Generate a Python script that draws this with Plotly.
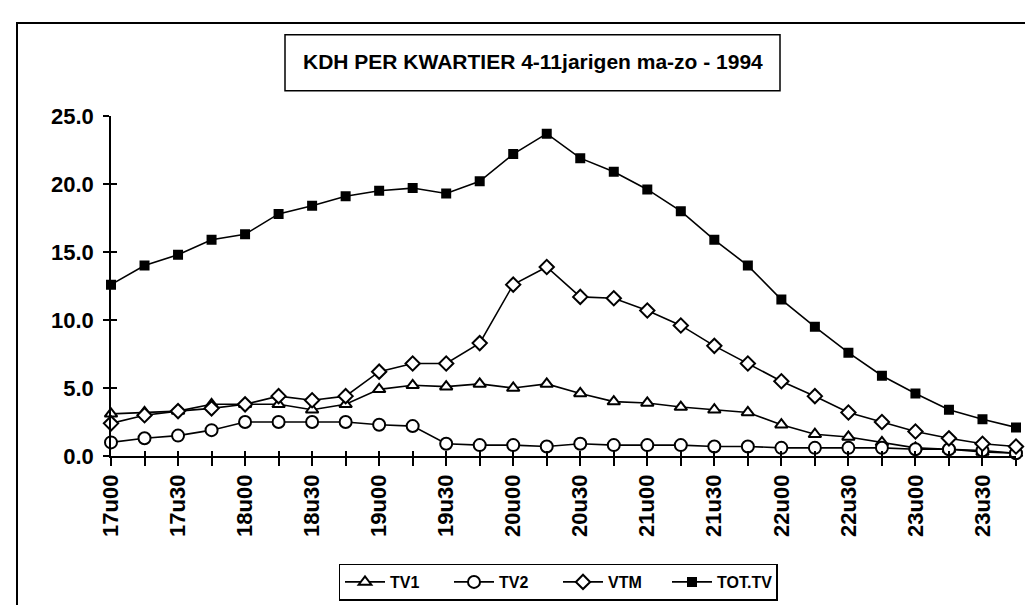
import plotly.graph_objects as go

times = ["17u00", "17u15", "17u30", "17u45", "18u00", "18u15", "18u30", "18u45",
         "19u00", "19u15", "19u30", "19u45", "20u00", "20u15", "20u30", "20u45",
         "21u00", "21u15", "21u30", "21u45", "22u00", "22u15", "22u30", "22u45",
         "23u00", "23u15", "23u30", "23u45"]
tick_labels = ["17u00", "", "17u30", "", "18u00", "", "18u30", "",
               "19u00", "", "19u30", "", "20u00", "", "20u30", "",
               "21u00", "", "21u30", "", "22u00", "", "22u30", "",
               "23u00", "", "23u30", ""]

tv1 = [3.1, 3.2, 3.3, 3.8, 3.8, 3.8, 3.4, 3.8, 4.9, 5.2, 5.1, 5.3, 5.0, 5.3,
       4.6, 4.0, 3.9, 3.6, 3.4, 3.2, 2.3, 1.6, 1.4, 1.0, 0.6, 0.5, 0.3, 0.2]
tv2 = [1.0, 1.3, 1.5, 1.9, 2.5, 2.5, 2.5, 2.5, 2.3, 2.2, 0.9, 0.8, 0.8, 0.7,
       0.9, 0.8, 0.8, 0.8, 0.7, 0.7, 0.6, 0.6, 0.6, 0.6, 0.5, 0.5, 0.4, 0.2]
vtm = [2.4, 3.0, 3.3, 3.5, 3.8, 4.4, 4.1, 4.4, 6.2, 6.8, 6.8, 8.3, 12.6, 13.9,
       11.7, 11.6, 10.7, 9.6, 8.1, 6.8, 5.5, 4.4, 3.2, 2.5, 1.8, 1.3, 0.9, 0.7]
tot_tv = [12.6, 14.0, 14.8, 15.9, 16.3, 17.8, 18.4, 19.1, 19.5, 19.7, 19.3, 20.2,
          22.2, 23.7, 21.9, 20.9, 19.6, 18.0, 15.9, 14.0, 11.5, 9.5, 7.6, 5.9,
          4.6, 3.4, 2.7, 2.1]

series_names = ["TV1", "TV2", "VTM", "TOT.TV"]
y_ticks = [0, 5, 10, 15, 20, 25]
title_text = "KDH PER KWARTIER 4-11jarigen ma-zo - 1994"

W, H = 1033, 605
ML, MR, MT, MB = 103, 25, 108, 146
PW = W - ML - MR
PH = H - MT - MB


def px_x(p):
    return (p - ML) / PW


def px_y(p):
    return (H - MB - p) / PH


idx = list(range(len(times)))
FONT = "Liberation Sans, Arial, sans-serif"

fig = go.Figure()
styles = [
    dict(symbol="triangle-up", size=11, color="white"),
    dict(symbol="circle", size=12, color="white"),
    dict(symbol="diamond", size=11, color="white"),
    dict(symbol="square", size=8, color="black"),
]
for name, vals, st in zip(series_names, [tv1, tv2, vtm, tot_tv], styles):
    fig.add_trace(go.Scatter(
        x=idx, y=vals, name=name, mode="lines+markers",
        line=dict(color="black", width=1.6),
        marker=dict(symbol=st["symbol"], size=st["size"], color=st["color"],
                    line=dict(color="black", width=2)),
        cliponaxis=False,
    ))

# invisible helper trace for overlay axes (inner halves of crossing ticks)
fig.add_trace(go.Scatter(x=[0], y=[0], xaxis="x2", yaxis="y2", mode="markers",
                         marker=dict(opacity=0), showlegend=False, hoverinfo="skip"))

fig.update_layout(
    width=W, height=H,
    margin=dict(l=ML, r=MR, t=MT, b=MB),
    paper_bgcolor="white", plot_bgcolor="white",
    font=dict(family=FONT, color="black"),
    xaxis=dict(range=[0, len(times) - 1], tickmode="array", tickvals=idx,
               ticktext=tick_labels, tickangle=-90, ticks="outside", ticklen=8,
               tickwidth=1.5, tickcolor="black", showline=True, linecolor="black",
               linewidth=1.5, showgrid=False, zeroline=False,
               tickfont=dict(size=22, family=FONT, weight="bold", color="black")),
    yaxis=dict(range=[0, 25], tickmode="array", tickvals=y_ticks,
               ticktext=[f"{v:.1f}" for v in y_ticks], ticks="outside", ticklen=6,
               tickwidth=1.5, tickcolor="black", showline=True, linecolor="black",
               linewidth=1.5, showgrid=False, zeroline=False, ticklabelstandoff=5,
               tickfont=dict(size=22, family=FONT, weight="bold", color="black")),
    xaxis2=dict(overlaying="x", matches="x", range=[0, len(times) - 1], tickmode="array",
                tickvals=idx, ticks="inside", ticklen=5, tickwidth=1.5,
                tickcolor="black", showticklabels=False, showgrid=False,
                zeroline=False, showline=False, anchor="y2", side="bottom"),
    yaxis2=dict(overlaying="y", range=[0, 25], tickmode="array", tickvals=y_ticks,
                ticks="inside", ticklen=6, tickwidth=1.5, tickcolor="black",
                showticklabels=False, showgrid=False, zeroline=False,
                showline=False, anchor="x2", side="left"),
    showlegend=True,
    legend=dict(orientation="h", x=px_x(550), xanchor="center",
                y=px_y(570), yanchor="top", bordercolor="black", borderwidth=1.5,
                bgcolor="white", font=dict(size=16, family=FONT, weight="bold"),
                itemwidth=40, tracegroupgap=0, entrywidth=54, entrywidthmode="pixels"),
    shapes=[
        dict(type="rect", xref="paper", yref="paper",
             x0=px_x(9), x1=px_x(1045), y0=px_y(625), y1=px_y(12),
             line=dict(color="black", width=2), fillcolor="rgba(0,0,0,0)", layer="below"),
        dict(type="rect", xref="paper", yref="paper",
             x0=px_x(277), x1=px_x(772), y0=px_y(82), y1=px_y(24),
             line=dict(color="black", width=1.5), fillcolor="white"),
    ],
    annotations=[
        dict(text="<b>" + title_text + "</b>", xref="paper", yref="paper",
             x=px_x(525), y=px_y(52), xanchor="center", yanchor="middle",
             showarrow=False, font=dict(size=21, family=FONT, color="black")),
    ],
)

fig.write_html("out.html")
